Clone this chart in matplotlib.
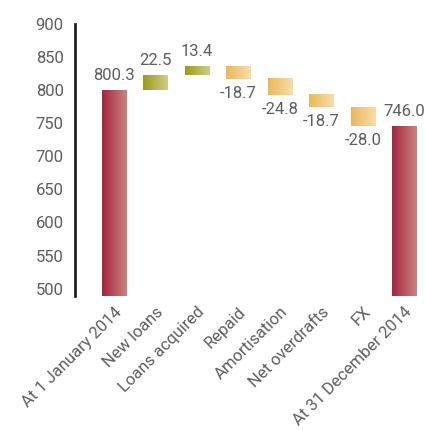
import numpy as np
import matplotlib.pyplot as plt
from matplotlib.colors import LinearSegmentedColormap

categories = ["At 1 January 2014", "New loans", "Loans acquired", "Repaid",
              "Amortisation", "Net overdrafts", "FX", "At 31 December 2014"]
start_value = 800.3
changes = [22.5, 13.4, -18.7, -24.8, -18.7, -28.0]
end_value = 746.0
yticks = [500, 550, 600, 650, 700, 750, 800, 850, 900]

plt.rcParams['font.family'] = ['Roboto', 'DejaVu Sans']
grey = '#5e5e5e'

cmap_total = LinearSegmentedColormap.from_list('total', ['#a6233f', '#c9867f'])
cmap_up = LinearSegmentedColormap.from_list('up', ['#9d9918', '#cfcd8f'])
cmap_down = LinearSegmentedColormap.from_list('down', ['#ecb75a', '#f8dda9'])

fig = plt.figure(figsize=(4.25, 4.3), dpi=100)
ax = fig.add_axes([0.176, 0.312, 0.824, 0.632])
ymin, ymax = 489, 900
ax.set_xlim(-0.94, 7.5)
ax.set_ylim(ymin, ymax)

width = 0.58
grad = np.linspace(0, 1, 256).reshape(1, -1)


def gbar(x, y0, y1, cmap):
    lo, hi = min(y0, y1), max(y0, y1)
    ax.imshow(grad, extent=[x - width / 2, x + width / 2, lo, hi],
              cmap=cmap, aspect='auto', interpolation='bicubic', zorder=2)


def label(x, y, val, above):
    ax.annotate(f"{val:.1f}", (x, y),
                xytext=(0, 5 if above else -5), textcoords='offset points',
                ha='center', va='bottom' if above else 'top',
                fontsize=12, color=grey)


# opening total
gbar(0, ymin, start_value, cmap_total)
label(0, start_value, start_value, True)

level = start_value
for i, c in enumerate(changes, start=1):
    new = level + c
    gbar(i, level, new, cmap_up if c > 0 else cmap_down)
    label(i, new, c, c > 0)
    level = new

# closing total
gbar(7, ymin, end_value, cmap_total)
label(7, end_value, end_value, True)

ax.set_xticks(range(len(categories)))
ax.set_xticklabels(categories, rotation=45, ha='right', rotation_mode='anchor',
                   fontsize=12, color=grey)
ax.set_yticks(yticks)
ax.set_yticklabels([str(t) for t in yticks], fontsize=12, color=grey)
ax.tick_params(axis='both', length=0)
ax.tick_params(axis='y', pad=8)
ax.tick_params(axis='x', pad=6)

for s in ['top', 'right', 'bottom']:
    ax.spines[s].set_visible(False)
ax.spines['left'].set_linewidth(2)
ax.spines['left'].set_color('#222222')

fig.savefig('out.png', dpi=100)
